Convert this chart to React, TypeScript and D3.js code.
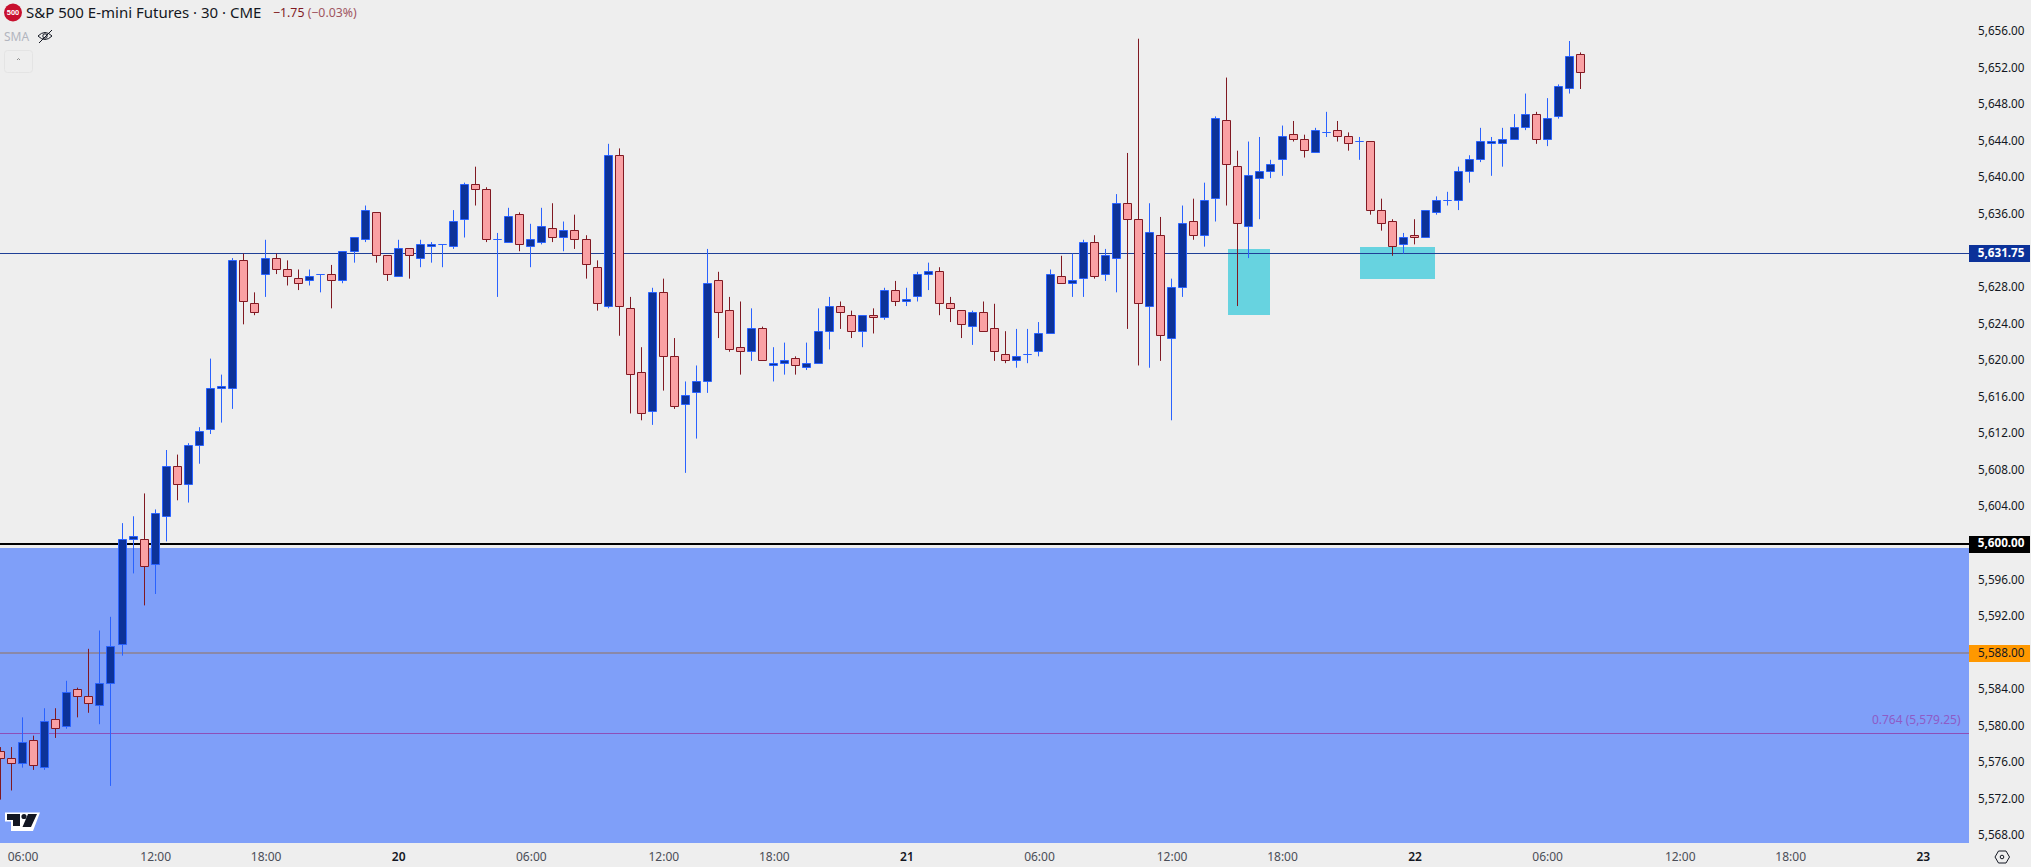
import React, {useEffect, useRef} from 'react'
import * as d3 from 'd3'

// 30 min bars
const opens = [
  5577.25, 5576.5, 5576, 5578.5, 5575.5, 5580.75, 5580, 5584, 5583.25, 5582.25,
  5584.75, 5589, 5600.5, 5600.5, 5597.75, 5603, 5608.5, 5606.5, 5610.75, 5612.5,
  5617, 5617, 5631, 5626.25, 5629.5, 5631.25, 5630, 5629, 5628.75, 5629.5,
  5629.5, 5628.75, 5632, 5633.25, 5636.25, 5631.5, 5629.25, 5632.25, 5631.25, 5632.5,
  5632.75, 5632.5, 5635.5, 5639.25, 5638.75, 5633.25, 5633, 5636, 5632.5, 5633,
  5634.5, 5633.5, 5634.25, 5633.25, 5630.25, 5626, 5642.5, 5625.75, 5618.75, 5614.5,
  5627.5, 5620.5, 5615.25, 5616.5, 5617.75, 5628.75, 5625.5, 5621.5, 5621, 5623.5,
  5619.5, 5619.75, 5620.25, 5619.25, 5619.75, 5623.25, 5626, 5625, 5623.25, 5625,
  5624.75, 5627.75, 5626.5, 5627, 5629.5, 5629.75, 5626.25, 5625.5, 5623.75, 5625.25,
  5623.5, 5620.75, 5620, 5620.75, 5621, 5623, 5629.25, 5628.5, 5629, 5633,
  5629.5, 5631.25, 5637.25, 5635.5, 5626, 5633.75, 5622.5, 5628, 5635.25, 5633.75,
  5637.75, 5646.25, 5641.25, 5634.75, 5640, 5640.75, 5642, 5644.75, 5644.25, 5642.75,
  5645, 5645.25, 5644.5, 5644, 5644, 5636.5, 5635.25, 5632.75, 5633.75, 5633.5,
  5636.25, 5637.5, 5637.5, 5640.75, 5642, 5643.75, 5643.75, 5644.25, 5645.5, 5647,
  5644.25, 5646.75, 5649.75, 5653.5,
]
const highs = [
  5577.75, 5577.75, 5581, 5579, 5582, 5582, 5585, 5584.25, 5588.5, 5590.5,
  5592, 5602.25, 5603, 5605.5, 5603.75, 5610.25, 5609.75, 5611, 5612.75, 5620.25,
  5618.5, 5631.25, 5631.75, 5627.5, 5633.25, 5631.75, 5631, 5630, 5630, 5629.5,
  5630.5, 5632, 5633.5, 5637, 5636.25, 5631.5, 5633.25, 5632.25, 5633.25, 5633,
  5632.75, 5636.5, 5639.5, 5641.25, 5639, 5634, 5636.75, 5636.25, 5635, 5636.75,
  5637.25, 5635.25, 5636, 5633.75, 5631, 5643.75, 5643.25, 5627, 5621.5, 5628,
  5629, 5622.5, 5617.75, 5619.5, 5632.25, 5629.75, 5627, 5626.5, 5625.75, 5623.75,
  5621.5, 5622, 5620.5, 5622, 5625.75, 5627, 5626.5, 5625.5, 5625, 5625.75,
  5628, 5628.75, 5628, 5629.75, 5630.75, 5630.25, 5627, 5625.5, 5625.5, 5626.5,
  5626.25, 5623.25, 5623.5, 5623.5, 5624.25, 5630, 5631.5, 5631.75, 5633.25, 5633.75,
  5632.25, 5638.25, 5642.75, 5655.25, 5637.25, 5635.75, 5629, 5637, 5637.75, 5639.5,
  5646.75, 5651, 5643, 5644, 5644.5, 5642, 5645.75, 5646.25, 5644.75, 5645.5,
  5647.25, 5646.25, 5645, 5644.5, 5644, 5637.75, 5635.5, 5634, 5635.5, 5636.5,
  5638, 5638.5, 5641.25, 5642.5, 5645.5, 5644.5, 5645.5, 5647, 5649.25, 5647.25,
  5648.75, 5650.25, 5655, 5653.75,
]
const lows = [
  5572, 5573, 5575.5, 5575.25, 5575.25, 5578.75, 5579.75, 5581, 5581.5, 5580.25,
  5573.5, 5587.75, 5596.75, 5593.25, 5594.5, 5600.25, 5604.75, 5604.5, 5608.75, 5612,
  5613.25, 5614.75, 5624, 5625, 5627, 5629.5, 5628.25, 5627.75, 5628.25, 5627.5,
  5625.75, 5628.5, 5630.75, 5633, 5630.75, 5628.75, 5629.25, 5629, 5630.25, 5630.75,
  5630.25, 5632.25, 5633.5, 5637, 5633, 5627, 5633, 5632, 5630.25, 5632.75,
  5633, 5632, 5632.25, 5629, 5625.5, 5625.75, 5622.75, 5614.25, 5613.5, 5613,
  5616.75, 5614.75, 5607.75, 5611.5, 5616.5, 5622.5, 5621, 5618.5, 5620, 5620,
  5617.75, 5618.5, 5618.5, 5619, 5619.75, 5621.25, 5623.5, 5622.5, 5621.5, 5623,
  5624.5, 5626, 5626, 5626.5, 5627.75, 5625, 5624.25, 5622.5, 5621.75, 5623.25,
  5620, 5619.75, 5619.25, 5619.75, 5620.5, 5623, 5628.5, 5627, 5627, 5629,
  5628.75, 5627.5, 5623.5, 5619.5, 5619.25, 5620, 5613.5, 5627, 5633.25, 5632.5,
  5635.25, 5637, 5626, 5631.25, 5635.5, 5640, 5640.25, 5644, 5642.25, 5642.75,
  5644.5, 5644, 5643, 5642, 5636, 5634.25, 5631.5, 5631.75, 5632.75, 5633.5,
  5636, 5637, 5636.5, 5639.5, 5641.75, 5640.25, 5641.25, 5644.25, 5645.25, 5643.75,
  5643.5, 5646.5, 5649.25, 5649.75,
]
const closes = [
  5576.5, 5576, 5578.25, 5575.75, 5580.5, 5579.75, 5583.75, 5583.25, 5582.5, 5584.75,
  5588.75, 5600.5, 5600.75, 5597.5, 5603.25, 5608.5, 5606.5, 5610.75, 5612.25, 5617,
  5617.25, 5631, 5626.5, 5625.25, 5631.25, 5630, 5629.25, 5628.5, 5629.25, 5629.5,
  5628.75, 5632, 5633.5, 5636.5, 5631.5, 5629.5, 5632.25, 5631.5, 5632.75, 5632.75,
  5632.75, 5635.25, 5639.25, 5638.75, 5633.25, 5633.25, 5635.75, 5632.75, 5633.25, 5634.75,
  5633.5, 5634.25, 5633.25, 5630.5, 5626.25, 5642.5, 5626, 5618.5, 5614.25, 5627.5,
  5620.5, 5615, 5616.25, 5617.75, 5628.5, 5625.25, 5621.25, 5621, 5623.5, 5620,
  5619.75, 5620, 5619.5, 5619.75, 5623.25, 5626, 5625.25, 5623.25, 5625, 5624.75,
  5627.75, 5626.5, 5626.75, 5629.5, 5629.75, 5626.25, 5625.75, 5624, 5625.25, 5623.25,
  5621, 5620, 5620.5, 5620.75, 5623, 5629.5, 5628.5, 5628.75, 5633, 5629.25,
  5631.5, 5637.25, 5635.5, 5626.25, 5634, 5622.75, 5628, 5635, 5633.75, 5637.5,
  5646.5, 5641.5, 5635, 5640.25, 5640.75, 5641.5, 5644.5, 5644.25, 5643, 5645.25,
  5645, 5644.5, 5643.75, 5644, 5636.5, 5635, 5632.5, 5633.5, 5633.5, 5636.5,
  5637.5, 5637.5, 5640.75, 5642, 5644, 5644, 5644.25, 5645.5, 5647, 5644.25,
  5646.5, 5650, 5653.25, 5651.5,
]

const priceTicks = [
  5656, 5652, 5648, 5644, 5640, 5636, 5628, 5624, 5620, 5616, 5612, 5608, 5604,
  5596, 5592, 5584, 5580, 5576, 5572, 5568,
]
const timeBars = [2, 14, 24, 36, 48, 60, 70, 82, 94, 106, 116, 128, 140, 152, 162, 174]
const timeLabels = [
  '06:00', '12:00', '18:00', '20', '06:00', '12:00', '18:00', '21',
  '06:00', '12:00', '18:00', '22', '06:00', '12:00', '18:00', '23',
]
// cyan rectangles: [from bar, to bar, top price, bottom price]
const boxes = [
  [111.1, 114.9, 5632.25, 5625],
  [123.05, 129.85, 5632.5, 5629],
]
const supportLevel = 5631.75
const roundLevel = 5600
const zoneTop = 5599.5
const orangeLevel = 5588
const fibLevel = 5579.25

const width = 2031
const height = 867
const paneRight = 1969
const paneBottom = 843
const font = '"Noto Sans", sans-serif'

const x = d3.scaleLinear().domain([0, 143]).range([0.5, 1580.3])
const y = d3.scaleLinear().domain([5568, 5656]).range([836.18, 31.86])
const snap = (v: number) => Math.round(v - 0.5) + 0.5
const money = d3.format(',.2f')

const UP = {fill: '#0c3299', stroke: '#2962ff'}
const DOWN = {fill: '#faa1a4', stroke: '#801922'}

const bodyPath = (cx: number, a: number, b: number) => {
  const p = d3.path()
  p.rect(cx - 4, a, 8, b - a)
  return p.toString()
}

const Candles = () => (
  <g>
    {opens.map((o, i) => {
      const c = closes[i]
      const col = c >= o ? UP : DOWN
      const cx = Math.floor(x(i)) + 0.5
      const top = snap(y(Math.max(o, c)))
      const bot = snap(y(Math.min(o, c)))
      return (
        <g key={i}>
          <line x1={cx} x2={cx} y1={y(highs[i])} y2={y(lows[i])} stroke={col.stroke} />
          <path d={bodyPath(cx, top, bot)} fill={col.fill} stroke={col.stroke} />
        </g>
      )
    })}
  </g>
)

const PriceTag = ({price, bg, color, bold}: {price: number; bg: string; color: string; bold?: boolean}) => (
  <g>
    <rect x={paneRight} y={Math.round(y(price) - 0.2) - 8} width={61} height={17} fill={bg} />
    <text
      x={2024.5}
      y={y(price) - 0.5}
      dy="0.35em"
      textAnchor="end"
      fontSize={11.7}
      fontWeight={bold ? 700 : 400}
      fill={color}
      fontFamily={font}
    >
      {money(price)}
    </text>
  </g>
)

export default function App() {
  const yAxisRef = useRef<SVGGElement>(null)
  const xAxisRef = useRef<SVGGElement>(null)

  useEffect(() => {
    const yAxis = d3.axisRight(y).tickValues(priceTicks).tickSize(0).tickFormat(d => money(d as number))
    const yg = d3.select(yAxisRef.current).call(yAxis as any)
    yg.select('.domain').remove()
    yg.selectAll('text')
      .attr('x', 0)
      .attr('y', -1)
      .attr('text-anchor', 'end')
      .attr('fill', '#131722')
      .attr('font-size', 11.7)
      .attr('font-family', font)

    const xAxis = d3.axisBottom(x).tickValues(timeBars).tickSize(0).tickFormat((_, i) => timeLabels[i])
    const xg = d3.select(xAxisRef.current).call(xAxis as any)
    xg.select('.domain').remove()
    xg.selectAll('text')
      .attr('y', 0)
      .attr('dy', '0.35em')
      .attr('fill', (_, i) => (timeLabels[i].length > 2 ? '#4a4d57' : '#131722'))
      .attr('font-weight', (_, i) => (timeLabels[i].length > 2 ? 400 : 600))
      .attr('font-size', 12)
      .attr('font-family', font)
  }, [])

  return (
    <svg
      width={width}
      height={height}
      style={{position: 'fixed', left: 0, top: 0, display: 'block'}}
    >
      <rect width={width} height={height} fill="#eeeeee" />

      {/* demand zone */}
      <rect x={0} y={Math.round(y(zoneTop))} width={paneRight} height={paneBottom - Math.round(y(zoneTop))} fill="#7f9ff9" />

      {boxes.map((b, i) => (
        <rect
          key={i}
          x={Math.round(x(b[0]))}
          y={Math.round(y(b[2]))}
          width={Math.round(x(b[1]) - x(b[0]))}
          height={Math.round(y(b[3]) - y(b[2]))}
          fill="#67d3e0"
        />
      ))}

      <line x1={0} x2={paneRight} y1={snap(y(supportLevel))} y2={snap(y(supportLevel))} stroke="#1f3f96" />
      <line x1={0} x2={paneRight} y1={Math.round(y(roundLevel))} y2={Math.round(y(roundLevel))} stroke="#000" strokeWidth={2} />
      <line x1={0} x2={paneRight} y1={Math.round(y(orangeLevel))} y2={Math.round(y(orangeLevel))} stroke="#8a88a8" strokeWidth={2} />
      <line x1={0} x2={paneRight} y1={snap(y(fibLevel))} y2={snap(y(fibLevel))} stroke="#8d4fb8" />
      <text x={1960.5} y={724} textAnchor="end" fontSize={12} fill="#8e5bc6" fontFamily={font}>
        {`0.764 (${money(fibLevel)})`}
      </text>

      <Candles />

      {/* tradingview mark */}
      <g>
        <path d="M5 812.5H40L33 831H11V821.5H5Z" fill="#fff" />
        <path d="M7 814H20V826H13V820H7ZM28 814H37L31 827H22.5Z" fill="#131722" />
        <circle cx={24} cy={816.5} r={2.6} fill="#131722" />
      </g>

      <g ref={yAxisRef} transform="translate(2024.5,0)" />
      <PriceTag price={supportLevel} bg="#0c3299" color="#ffffff" bold />
      <PriceTag price={roundLevel} bg="#000000" color="#ffffff" bold />
      <PriceTag price={orangeLevel} bg="#ff9800" color="#131722" />

      <g ref={xAxisRef} transform="translate(0,857)" />

      {/* settings hexagon */}
      <g fill="none" stroke="#131722" strokeWidth={1}>
        <path d="M1995 857L1998.5 851H2006L2009.5 857L2006 863H1998.5Z" />
        <circle cx={2002} cy={857} r={1.8} />
      </g>

      {/* header */}
      <circle cx={13} cy={12.5} r={9} fill="#c8102e" />
      <text x={13} y={15} textAnchor="middle" fontSize={7.5} fontWeight={700} fill="#fff" fontFamily='"Liberation Sans", sans-serif'>
        500
      </text>
      <text x={26} y={17.5} fontSize={15} fill="#131722" fontFamily={font}>
        S&amp;P 500 E-mini Futures · 30 · CME
      </text>
      <text x={273} y={17} fontSize={12.3} fill="#801922" fontFamily={font}>
        −1.75 <tspan fill="#a0555e">(−0.03%)</tspan>
      </text>
      <text x={4} y={41} fontSize={12} fill="#b2b5be" fontFamily={font}>
        SMA
      </text>
      <g fill="none" stroke="#131722" strokeWidth={1}>
        <path d="M38 36Q45 29 52 36Q45 43 38 36Z" />
        <circle cx={45} cy={36} r={2.2} />
        <path d="M39 43L52 30" />
      </g>
      <rect x={4.5} y={50.5} width={28} height={22} rx={3} fill="none" stroke="#e4e4e4" />
      <path d="M17 60L18.5 58.5L20 60" fill="none" stroke="#8a8a8a" />
    </svg>
  )
}
